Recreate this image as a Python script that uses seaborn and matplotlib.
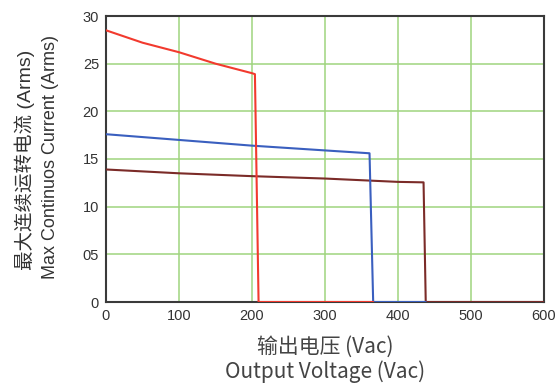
import pandas as pd
import seaborn as sns
import matplotlib.pyplot as plt

# curves (voltage in Vac, current in Arms)
red_v = [0, 50, 100, 150, 200, 204, 209, 366]
red_i = [28.5, 27.2, 26.2, 25.0, 24.0, 23.9, 0, 0]
blue_v = [0, 100, 200, 300, 361, 366, 438]
blue_i = [17.6, 17.0, 16.4, 15.9, 15.6, 0, 0]
brown_v = [0, 100, 200, 300, 400, 435, 438, 600]
brown_i = [13.9, 13.5, 13.2, 12.95, 12.6, 12.55, 0, 0]

x_ticks = [0, 100, 200, 300, 400, 500, 600]
y_ticks = [0, 5, 10, 15, 20, 25, 30]
y_tick_labels = ["0", "05", "10", "15", "20", "25", "30"]

COLORS = {"brown": "#7b2b28", "blue": "#3a5fbf", "red": "#f23a2e"}


def build_df():
    parts = []
    for name, v, i in [("brown", brown_v, brown_i), ("blue", blue_v, blue_i), ("red", red_v, red_i)]:
        d = pd.DataFrame({"Voltage": v, "Current": i})
        d["Curve"] = name
        parts.append(d)
    return pd.concat(parts, ignore_index=True)


def plot(df):
    sns.set_style("white")
    plt.rcParams["font.family"] = ["Liberation Sans", "Noto Sans CJK SC"]
    fig = plt.figure(figsize=(5.55, 3.84), dpi=100)
    ax = fig.add_axes([106 / 555, 1 - 302 / 384, 438 / 555, 286 / 384])

    sns.lineplot(
        data=df, x="Voltage", y="Current", hue="Curve", units="Curve", estimator=None,
        sort=False, hue_order=["brown", "blue", "red"], palette=COLORS,
        linewidth=1.5, legend=False, ax=ax, zorder=3,
    )

    ax.set_xlim(0, 600)
    ax.set_ylim(0, 30)
    ax.set_xticks(x_ticks)
    ax.set_yticks(y_ticks)
    ax.set_yticklabels(y_tick_labels)
    ax.tick_params(length=0, labelsize=10.5, labelcolor="#333333", pad=5)
    for x in x_ticks[1:-1]:
        ax.axvline(x, color="#9fd47f", lw=1.1, zorder=1)
    for y in y_ticks[1:-1]:
        ax.axhline(y, color="#9fd47f", lw=1.1, zorder=1)
    for s in ax.spines.values():
        s.set_color("#3a3a3a")
        s.set_linewidth(1.5)
    ax.set_xlabel("")
    ax.set_ylabel("")

    cjk = ["Noto Sans CJK SC", "DejaVu Sans"]
    fig.text(25 / 555, 1 - 160 / 384, "最大连续运转电流 (Arms)", rotation=90, ha="center", va="center",
             fontsize=14, color="#333333", family=["Liberation Sans", "Noto Sans CJK SC"])
    fig.text(51 / 555, 1 - 157 / 384, "Max Continuos Current (Arms)", rotation=90, ha="center", va="center",
             fontsize=13, color="#333333", family=["Liberation Sans"])
    fig.text(325 / 555, 1 - 347 / 384, "输出电压 (Vac)", ha="center", va="center",
             fontsize=15, color="#444444", family=cjk)
    fig.text(325 / 555, 1 - 372 / 384, "Output Voltage (Vac)", ha="center", va="center",
             fontsize=15, color="#444444", family=cjk)

    fig.savefig("out.png", dpi=100)


if __name__ == "__main__":
    df = build_df()
    plot(df)
